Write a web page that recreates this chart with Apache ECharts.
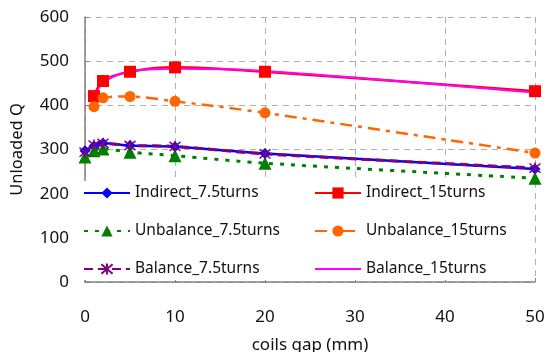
<!DOCTYPE html>
<html>
<head>
<meta charset="utf-8">
<script src="https://cdn.jsdelivr.net/npm/echarts@6/dist/echarts.min.js"></script>
<style>
  html, body { margin: 0; padding: 0; background: #fff; }
  #chart { width: 546px; height: 352px; }
</style>
</head>
<body>
<div id="chart"></div>
<script>
// Coil gap (mm) at which each configuration was measured
const gap75 = [0, 1, 2, 5, 10, 20, 50];
const gap15 = [1, 2, 5, 10, 20, 50];

// Unloaded Q per configuration
const indirect75  = [297, 308, 314, 309, 306, 291, 256];
const indirect15  = [421, 455, 476, 486, 476, 432];
const unbalance75 = [283, 297, 301, 294, 286, 269, 235];
const unbalance15 = [397, 417, 420, 409, 383, 292];
const balance75   = [294, 310, 314, 309, 307, 290, 258];
const balance15   = [417, 451, 477, 483, 478, 429];

const yTicks = { min: 0, max: 600, step: 100 };
const xTicks = { min: 0, max: 50, step: 10 };

const FONT = 'Noto Sans';
const pairs = (xs, ys) => xs.map((x, i) => [x, ys[i]]);
const asterisk = 'path://M0,0L10,10M10,0L0,10M5,-1L5,11';

const chart = echarts.init(document.getElementById('chart'), null, { renderer: 'canvas' });

const legendCommon = {
  orient: 'vertical',
  itemWidth: 46,
  itemHeight: 14,
  itemGap: 22,
  textStyle: { fontFamily: FONT, fontSize: 15.5, color: '#111' },
  padding: 0
};

chart.setOption({
  animation: false,
  backgroundColor: '#fff',
  grid: { left: 85, right: 11, top: 17, bottom: 70, outerBoundsMode: 'none' },
  // white panel behind the legend block inside the plot area
  graphic: [{
    type: 'rect', left: 84, top: 181, z: 1, silent: true,
    shape: { width: 450, height: 99 },
    style: { fill: '#fff' }
  }],
  legend: [
    Object.assign({}, legendCommon, {
      left: 83, top: 185,
      data: ['Indirect_7.5turns', 'Unbalance_7.5turns', 'Balance_7.5turns']
    }),
    Object.assign({}, legendCommon, {
      left: 314, top: 185,
      data: ['Indirect_15turns', 'Unbalance_15turns',
             { name: 'Balance_15turns', itemStyle: { opacity: 0 } }]
    })
  ],
  xAxis: {
    type: 'value',
    min: xTicks.min, max: xTicks.max, interval: xTicks.step,
    name: 'coils gap (mm)',
    nameLocation: 'middle',
    nameGap: 55,
    nameTextStyle: { fontFamily: FONT, fontSize: 17, color: '#111' },
    axisLine: { show: true, lineStyle: { color: '#808080', width: 1.5 } },
    axisTick: { show: true, inside: true, length: 4, lineStyle: { color: '#808080' } },
    axisLabel: { fontFamily: FONT, fontSize: 17, color: '#111', margin: 27 },
    splitLine: { show: true, lineStyle: { color: '#b0b0b0', type: [6, 5], width: 1 } }
  },
  yAxis: {
    type: 'value',
    min: yTicks.min, max: yTicks.max, interval: yTicks.step,
    name: 'Unloaded Q',
    nameLocation: 'middle',
    nameGap: 59,
    nameRotate: 90,
    nameTextStyle: { fontFamily: FONT, fontSize: 16.5, color: '#111' },
    axisLine: { show: true, lineStyle: { color: '#808080', width: 1.5 } },
    axisTick: { show: true, inside: true, length: 4, lineStyle: { color: '#808080' } },
    axisLabel: { fontFamily: FONT, fontSize: 17, color: '#111', margin: 16 },
    splitLine: { show: true, lineStyle: { color: '#b0b0b0', type: [6, 5], width: 1 } }
  },
  series: [
    {
      name: 'Indirect_7.5turns', type: 'line', smooth: 0.3,
      data: pairs(gap75, indirect75),
      symbol: 'diamond', symbolSize: 11,
      itemStyle: { color: '#0000ff' },
      lineStyle: { color: '#0000ff', width: 2.5 }
    },
    {
      name: 'Indirect_15turns', type: 'line', smooth: 0.3,
      data: pairs(gap15, indirect15),
      symbol: 'rect', symbolSize: 12,
      itemStyle: { color: '#ff0000' },
      lineStyle: { color: '#ff0000', width: 2.5 }
    },
    {
      name: 'Unbalance_7.5turns', type: 'line', smooth: 0.3,
      data: pairs(gap75, unbalance75),
      symbol: 'triangle', symbolSize: 13,
      itemStyle: { color: '#008000' },
      lineStyle: { color: '#008000', width: 3, type: [4, 7] }
    },
    {
      name: 'Unbalance_15turns', type: 'line', smooth: 0.3,
      data: pairs(gap15, unbalance15),
      symbol: 'circle', symbolSize: 11,
      itemStyle: { color: '#ff6600' },
      lineStyle: { color: '#ff6600', width: 2.5, type: [12, 6, 4, 6] }
    },
    {
      name: 'Balance_7.5turns', type: 'line', smooth: 0.3,
      data: pairs(gap75, balance75),
      symbol: asterisk, symbolSize: 11,
      itemStyle: { color: 'rgba(0,0,0,0)', borderColor: '#800080', borderWidth: 1.5 },
      lineStyle: { color: '#800080', width: 3, type: [9, 5] }
    },
    {
      name: 'Balance_15turns', type: 'line', smooth: 0.3,
      data: pairs(gap15, balance15),
      symbol: 'none',
      itemStyle: { color: '#ff00ff' },
      lineStyle: { color: '#ff00ff', width: 2 }
    }
  ]
});
</script>
</body>
</html>
